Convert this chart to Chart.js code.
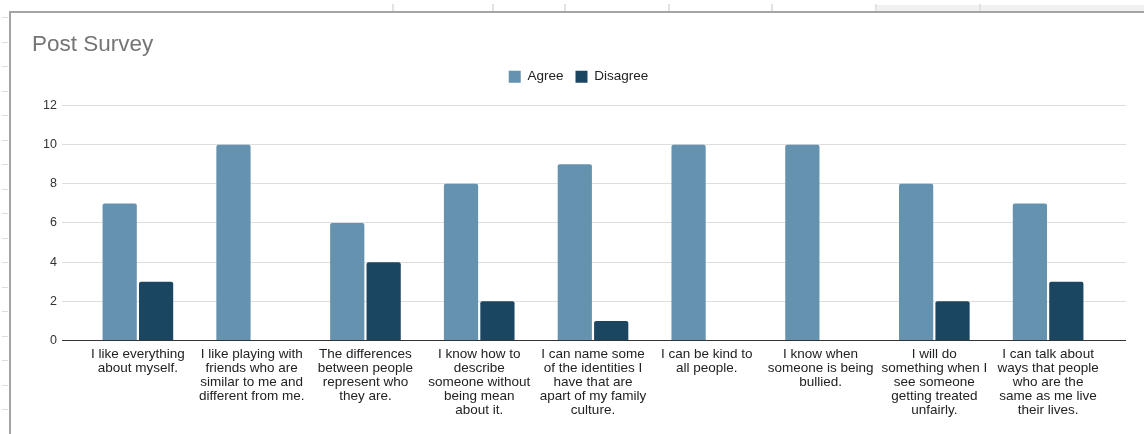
<!DOCTYPE html>
<html>
<head>
<meta charset="utf-8">
<title>Post Survey</title>
<script src="https://cdn.jsdelivr.net/npm/chart.js@4/dist/chart.umd.min.js"></script>
<style>
  html, body { margin: 0; padding: 0; background: #fff; }
  body { width: 1144px; height: 434px; position: relative; overflow: hidden; }
  #strip { position: absolute; left: 875px; top: 5px; width: 269px; height: 6px; background: #f1f1f1; }
  .colTick { position: absolute; top: 4px; width: 2px; height: 7px; background: #e2e2e2; }
  .rowTick { position: absolute; left: 2px; width: 6px; height: 1px; background: #dcdcdc; }
  #frame {
    position: absolute; left: 9px; top: 11px; width: 1135px; height: 423px;
    border-top: 2px solid #a4a4a4; border-left: 2px solid #a4a4a4; box-sizing: border-box;
  }
  #wrap { position: absolute; left: 11px; top: 13px; width: 1133px; height: 421px; }
</style>
</head>
<body>
<div id="strip"></div>
<div id="frame"></div>
<div id="wrap"><canvas id="myChart"></canvas></div>
<script>
// spreadsheet decoration behind the chart
[392, 492, 564, 668, 771, 875, 979].forEach(function (x) {
    var d = document.createElement("div");
    d.className = "colTick";
    d.style.left = x + "px";
    document.body.appendChild(d);
});
for (var ry = 17; ry < 434; ry += 24.5) {
    var r = document.createElement("div");
    r.className = "rowTick";
    r.style.top = Math.round(ry) + "px";
    document.body.appendChild(r);
}

var categories = [
    ["I like everything", "about myself."],
    ["I like playing with", "friends who are", "similar to me and", "different from me."],
    ["The differences", "between people", "represent who", "they are."],
    ["I know how to", "describe", "someone without", "being mean", "about it."],
    ["I can name some", "of the identities I", "have that are", "apart of my family", "culture."],
    ["I can be kind to", "all people."],
    ["I know when", "someone is being", "bullied."],
    ["I will do", "something when I", "see someone", "getting treated", "unfairly."],
    ["I can talk about", "ways that people", "who are the", "same as me live", "their lives."]
];
var agree = [7, 10, 6, 8, 9, 10, 10, 8, 7];
var disagree = [3, 0, 4, 2, 1, 0, 0, 2, 3];
var yTicks = [0, 2, 4, 6, 8, 10, 12];

var gridColor = "#dedede";
var zeroColor = "#333333";
var fontFamily = "Liberation Sans, Arial, sans-serif";

// gridlines run a little past the plot on the right, like the sheet chart
var extendGrid = {
    id: "extendGrid",
    beforeDatasetsDraw: function (chart) {
        var ctx = chart.ctx;
        var area = chart.chartArea;
        var y = chart.scales.y;
        ctx.save();
        ctx.lineWidth = 1;
        y.ticks.forEach(function (t) {
            var py = Math.round(y.getPixelForValue(t.value) - 0.5) + 0.5;
            ctx.strokeStyle = t.value === 0 ? zeroColor : gridColor;
            ctx.beginPath();
            ctx.moveTo(t.value === 0 ? area.left - 19 : area.right, py);
            ctx.lineTo(area.right + 21, py);
            ctx.stroke();
        });
        ctx.restore();
    }
};

// more room under the legend, and nudge it right a bit
var legendSpace = {
    id: "legendSpace",
    beforeInit: function (chart) {
        var origFit = chart.legend.fit;
        chart.legend.fit = function () {
            origFit.bind(chart.legend)();
            this.height += 12;
        };
    },
    afterLayout: function (chart) {
        chart.legend.left += 10;
        chart.legend.right += 10;
    }
};

var ctx = document.getElementById("myChart");
var myChart = new Chart(ctx, {
    type: "bar",
    data: {
        labels: categories,
        datasets: [{
            label: "Agree",
            data: agree,
            backgroundColor: "#6592ae",
            borderRadius: 2,
            borderSkipped: "bottom"
        }, {
            label: "Disagree",
            data: disagree,
            backgroundColor: "#1b4661",
            borderRadius: 2,
            borderSkipped: "bottom"
        }]
    },
    options: {
        responsive: true,
        maintainAspectRatio: false,
        animation: false,
        categoryPercentage: 0.64,
        barPercentage: 0.94,
        layout: { padding: { left: 21, right: 39, top: 0, bottom: 10 } },
        plugins: {
            title: {
                display: true,
                text: "Post Survey",
                align: "start",
                color: "#757575",
                font: { family: fontFamily, size: 22.5, weight: "normal" },
                padding: { top: 18, bottom: 0 }
            },
            legend: {
                display: true,
                position: "top",
                labels: {
                    boxWidth: 12,
                    boxHeight: 12,
                    padding: 12,
                    color: "#222",
                    font: { family: fontFamily, size: 13.5 }
                }
            },
            tooltip: { enabled: false }
        },
        scales: {
            x: {
                grid: { display: false, drawTicks: false },
                border: { display: true, color: zeroColor },
                ticks: {
                    autoSkip: false,
                    maxRotation: 0,
                    padding: 7,
                    color: "#222",
                    font: { family: fontFamily, size: 13.5, lineHeight: 1.03 }
                }
            },
            y: {
                min: 0,
                max: 12,
                afterBuildTicks: function (scale) {
                    scale.ticks = yTicks.map(function (v) { return { value: v }; });
                },
                afterFit: function (scale) { scale.width = 49; },
                border: { display: false },
                grid: {
                    drawTicks: true,
                    tickLength: 19,
                    color: function (c) { return c.tick && c.tick.value === 0 ? zeroColor : gridColor; }
                },
                ticks: {
                    padding: 5,
                    color: "#333",
                    font: { family: fontFamily, size: 12.5 }
                }
            }
        }
    },
    plugins: [extendGrid, legendSpace]
});
</script>
</body>
</html>
